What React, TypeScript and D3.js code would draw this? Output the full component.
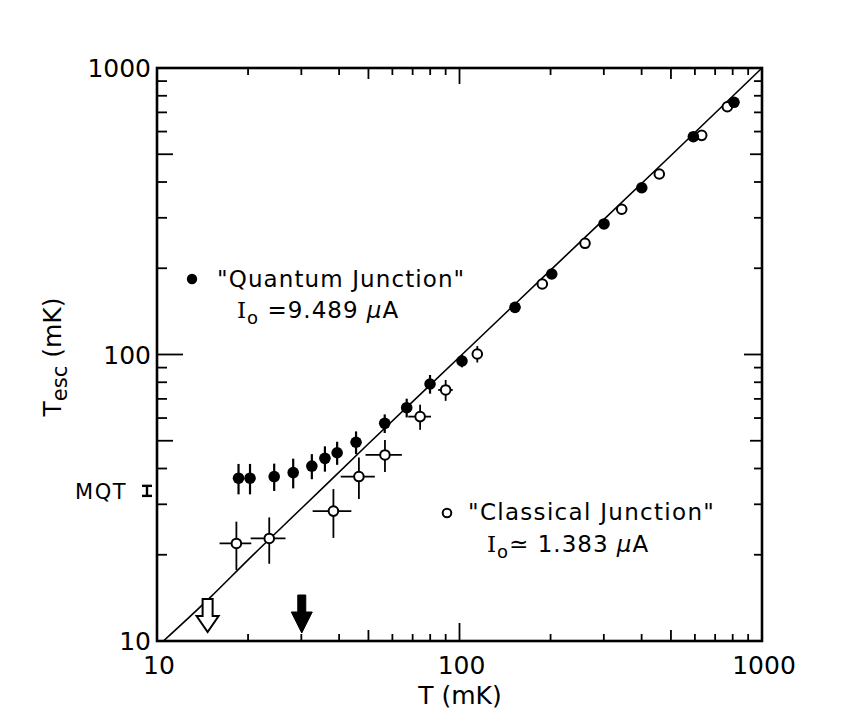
import React from "react";
import * as d3 from "d3";

// ---- data ----
const quantumT = [18.6, 20.3, 24.4, 28.2, 32.5, 35.9, 39.4, 45.5, 56.6, 66.9, 79.9, 101.9, 152.6, 201.8, 300.4, 400.4, 593, 808];
const quantumTesc = [37.0, 37.0, 37.5, 38.7, 40.8, 43.4, 45.4, 49.4, 57.5, 65.2, 78.9, 94.9, 146.1, 191, 285.5, 382, 575.7, 759];
const quantumTescErr = [4.5, 4.5, 4.1, 4.6, 4.1, 4.4, 4.2, 4.5, 4.3, 4.9, 5.9, 4.7, 4.5, 0, 0, 0, 0, 0];

const classicalT = [18.3, 23.5, 38.3, 46.5, 56.7, 74.1, 90.0, 114.5, 187.8, 260, 343.8, 457.6, 632, 768];
const classicalTesc = [21.9, 22.8, 28.4, 37.5, 44.6, 60.7, 75.2, 100.4, 176.2, 244.4, 321.3, 426.6, 582, 732.5];
const classicalTescErr = [4.2, 4.2, 5.5, 6.2, 5.7, 6.1, 6.3, 6.6, 0, 0, 0, 0, 0, 0];
const classicalTErr = [2.2, 3.1, 5.6, 6.0, 7.8, 6.4, 5.0, 0, 0, 0, 0, 0, 0, 0];

const theoryT = [10.5, 15, 20, 30, 50, 100, 200, 500, 1000];
const theoryTesc = [10, 14.2, 19.2, 29, 48.8, 98, 197, 495, 1000];

const mqtRange = [32.1, 34.8];
const openArrowT = 14.7;
const filledArrowT = 30.1;

const tickLabels = [10, 100, 1000];
const domain = [10, 1000];

const FONT = "'DejaVu Sans', sans-serif";

export default function App() {
  const W = 850, H = 727;
  const x = d3.scaleLog().domain(domain).range([157, 762]);
  const y = d3.scaleLog().domain(domain).range([641, 68]);
  const L = 157, R = 762, T = 68, B = 641;

  const ticks = x.ticks();
  const lead = (v: number) => Math.round(v / Math.pow(10, Math.floor(Math.log10(v) + 1e-9)));
  const kind = (v: number) => (lead(v) === 1 ? 2 : lead(v) === 5 ? 1 : 0);

  const bottomLen = [7, 11, 18];
  const topLen = [7, 11, 16];
  const leftLen = [10, 16, 26];
  const rightLen = [8, 12, 18];

  const line = d3
    .line<number>()
    .x((_, i) => x(theoryT[i]))
    .y((d) => y(d))
    .curve(d3.curveMonotoneX);

  const arrow = (cx: number, top: number, tip: number, headY: number, shaftW: number, headW: number) =>
    `M${cx - shaftW / 2},${top} L${cx + shaftW / 2},${top} L${cx + shaftW / 2},${headY} L${cx + headW / 2},${headY} L${cx},${tip} L${cx - headW / 2},${headY} L${cx - shaftW / 2},${headY} Z`;

  const ox = x(openArrowT);
  const fx = x(filledArrowT);
  const mqx = 147;

  return (
    <svg width={W} height={H} style={{ position: "absolute", left: 0, top: 0, background: "#fff" }} fontFamily={FONT}>
      <rect x={0} y={0} width={W} height={H} fill="#fff" />
      {/* ticks */}
      <g stroke="#000" strokeWidth={1.8}>
        {ticks.map((v, i) => (
          <g key={"t" + i}>
            {v > 10 && v < 1000 && <line x1={x(v)} x2={x(v)} y1={B} y2={B - bottomLen[kind(v)]} />}
            {v > 10 && v < 1000 && <line x1={x(v)} x2={x(v)} y1={T} y2={T + topLen[kind(v)]} />}
            {v > 10 && v < 1000 && <line x1={L} x2={L + leftLen[kind(v)]} y1={y(v)} y2={y(v)} />}
            {v > 10 && v < 1000 && <line x1={R} x2={R - rightLen[kind(v)]} y1={y(v)} y2={y(v)} />}
          </g>
        ))}
      </g>
      {/* frame */}
      <rect x={L} y={T} width={R - L} height={B - T} fill="none" stroke="#000" strokeWidth={2.6} />

      {/* tick labels */}
      <g fontSize={25} fill="#000">
        {tickLabels.map((v) => (
          <text key={"xl" + v} x={x(v) + 2} y={674} textAnchor="middle">
            {v}
          </text>
        ))}
        {tickLabels.map((v) => (
          <text key={"yl" + v} x={151} y={y(v) + 9} textAnchor="end">
            {v}
          </text>
        ))}
      </g>

      {/* axis titles */}
      <text x={460} y={704} fontSize={25} textAnchor="middle">
        T (mK)
      </text>
      <text transform="translate(61,357) rotate(-90)" fontSize={25} textAnchor="middle">
        <tspan>T</tspan>
        <tspan dy={6} fontSize={21}>esc</tspan>
        <tspan dy={-6}> (mK)</tspan>
      </text>

      {/* theory line */}
      <path d={line(theoryTesc) || ""} fill="none" stroke="#000" strokeWidth={1.6} />

      {/* classical error bars */}
      <g stroke="#000" strokeWidth={1.8}>
        {classicalT.map((t, i) => (
          <g key={"ce" + i}>
            {classicalTescErr[i] > 0 && (
              <line x1={x(t)} x2={x(t)} y1={y(classicalTesc[i] - classicalTescErr[i])} y2={y(classicalTesc[i] + classicalTescErr[i])} />
            )}
            {classicalTErr[i] > 0 && (
              <line x1={x(t - classicalTErr[i])} x2={x(t + classicalTErr[i])} y1={y(classicalTesc[i])} y2={y(classicalTesc[i])} />
            )}
          </g>
        ))}
      </g>
      {/* quantum error bars */}
      <g stroke="#000" strokeWidth={2.2}>
        {quantumT.map((t, i) =>
          quantumTescErr[i] > 0 ? (
            <line key={"qe" + i} x1={x(t)} x2={x(t)} y1={y(quantumTesc[i] - quantumTescErr[i])} y2={y(quantumTesc[i] + quantumTescErr[i])} />
          ) : null
        )}
      </g>
      {/* classical points */}
      {classicalT.map((t, i) => (
        <circle key={"c" + i} cx={x(t)} cy={y(classicalTesc[i])} r={4.8} fill="#fff" stroke="#000" strokeWidth={2} />
      ))}
      {/* quantum points */}
      {quantumT.map((t, i) => (
        <circle key={"q" + i} cx={x(t)} cy={y(quantumTesc[i])} r={5.8} fill="#000" />
      ))}

      {/* arrows */}
      <path d={arrow(ox, 599, 632, 616, 10, 22)} fill="#fff" stroke="#000" strokeWidth={2} strokeLinejoin="miter" />
      <path d={arrow(fx, 595, 633, 612, 8, 21)} fill="#000" stroke="#000" strokeWidth={1} />

      {/* MQT */}
      <g stroke="#000" strokeWidth={2.4}>
        <line x1={mqx} x2={mqx} y1={y(mqtRange[0])} y2={y(mqtRange[1])} />
        <line x1={mqx - 5} x2={mqx + 5} y1={y(mqtRange[0])} y2={y(mqtRange[0])} />
        <line x1={mqx - 5} x2={mqx + 5} y1={y(mqtRange[1])} y2={y(mqtRange[1])} />
      </g>
      <text x={127} y={y((mqtRange[0] + mqtRange[1]) / 2) + 8} fontSize={21} letterSpacing={1.5} textAnchor="end">
        MQT
      </text>

      {/* legend: quantum */}
      <circle cx={192} cy={279} r={5.2} fill="#000" />
      <text x={217} y={287} fontSize={23} letterSpacing={1.1}>
        "Quantum Junction"
      </text>
      <text x={237} y={318} fontSize={23} letterSpacing={1}>
        <tspan fontFamily="'DejaVu Serif', serif">I</tspan>
        <tspan dy={6} fontSize={18}>o</tspan>
        <tspan dy={-6}> =9.489 </tspan>
        <tspan fontStyle="italic">μ</tspan>
        <tspan>A</tspan>
      </text>

      {/* legend: classical */}
      <circle cx={447} cy={513} r={4.3} fill="#fff" stroke="#000" strokeWidth={2} />
      <text x={468} y={520} fontSize={23} letterSpacing={1.3}>
        "Classical Junction"
      </text>
      <text x={487} y={552} fontSize={23} letterSpacing={1}>
        <tspan fontFamily="'DejaVu Serif', serif">I</tspan>
        <tspan dy={6} fontSize={18}>o</tspan>
        <tspan dy={-6}>≃ 1.383 </tspan>
        <tspan fontStyle="italic">μ</tspan>
        <tspan>A</tspan>
      </text>
    </svg>
  );
}
